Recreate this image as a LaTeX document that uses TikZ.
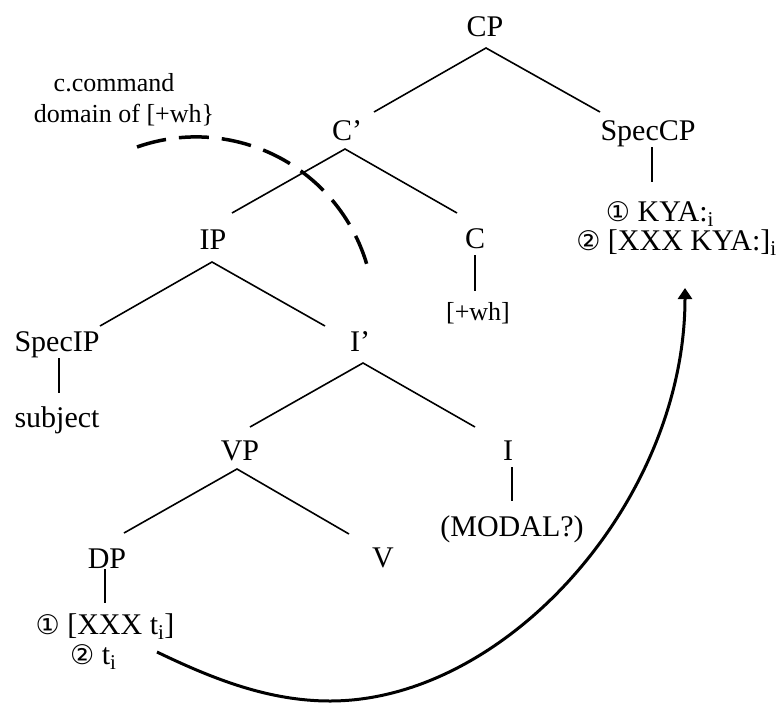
\documentclass[tikz,border=0pt]{standalone}
\usepackage{fontspec}
\setmainfont{Liberation Serif}
\newfontfamily\circfont[Scale=0.9]{DejaVu Sans}
\usetikzlibrary{arrows.meta}
\begin{document}
\begin{tikzpicture}[x=1pt,y=-1pt,
  lab/.style={inner sep=0pt, anchor=base, font=\fontsize{30}{36}\selectfont},
  sm/.style={inner sep=0pt, anchor=base, font=\fontsize{26}{31}\selectfont},
  br/.style={line width=1.6pt},
  vt/.style={line width=1.1pt},
  move/.style={line width=3pt, -{Triangle[length=11pt,width=14pt]}},
  dom/.style={line width=3.5pt, dash pattern=on 30pt off 13pt}]
\useasboundingbox (0,0) rectangle (778,704);
% labels
\node[lab] (CP) at (485,36) {CP};
\node[lab] (Cbar) at (347,140) {C’};
\node[lab] (SpecCP) at (648,140) {SpecCP};
\node[lab] (kya1) at (660,221) {{\circfont ①} KYA:\textsubscript{i}};
\node[lab, anchor=base east] (kya2) at (777,250) {{\circfont ②} [XXX KYA:]\textsubscript{i}};
\node[lab] (IP) at (213,249) {IP};
\node[lab] (C) at (475,248) {C};
\node[sm] (wh) at (478,320) {[+wh]};
\node[lab] (SpecIP) at (57,351) {SpecIP};
\node[lab] (subj) at (57,427) {subject};
\node[lab] (Ibar) at (360,351) {I’};
\node[lab] (VP) at (240,460) {VP};
\node[lab] (I) at (508,460) {I};
\node[lab] (modal) at (512,536) {(MODAL?)};
\node[lab] (DP) at (107,568) {DP};
\node[lab] (V) at (383,567) {V};
\node[lab] (dp1) at (105,634) {{\circfont ①} [XXX t\textsubscript{i}]};
\node[lab, anchor=base west] (dp2) at (70,664) {{\circfont ②} t\textsubscript{i}};
\node[sm] (cc1) at (114,91) {c.command};
\node[sm] (cc2) at (124,122) {domain of [+wh\}};
% attachment points
\coordinate (CPb) at (486,48);
\coordinate (Cbart) at (374,112);
\coordinate (SpecCPt) at (600,112);
\coordinate (Cbarb) at (345,149);
\coordinate (IPt) at (232,213);
\coordinate (Ct) at (457,213);
\coordinate (IPb) at (212,262);
\coordinate (SpecIPt) at (100,326);
\coordinate (Ibart) at (325,326);
\coordinate (Ibarb) at (363,363);
\coordinate (VPt) at (250,427);
\coordinate (It) at (475,427);
\coordinate (VPb) at (237,469);
\coordinate (DPt) at (124,533);
\coordinate (Vt) at (349,534);
% branches
\draw[br] (Cbart) -- (CPb) -- (SpecCPt);
\draw[br] (IPt) -- (Cbarb) -- (Ct);
\draw[br] (SpecIPt) -- (IPb) -- (Ibart);
\draw[br] (VPt) -- (Ibarb) -- (It);
\draw[br] (DPt) -- (VPb) -- (Vt);
% unary lines
\draw[vt] (652,147) coordinate (SpecCPb) -- (652,182) coordinate (kya1t);
\draw[vt] (475,255) coordinate (Cb) -- (475,291) coordinate (wht);
\draw[vt] (59,358) coordinate (SpecIPb) -- (59,393) coordinate (subjt);
\draw[vt] (512,467) coordinate (Ib) -- (512,501) coordinate (modalt);
\draw[vt] (105,569) coordinate (DPb) -- (105,603) coordinate (dp1t);
% c-command domain
\coordinate (domS) at (137,147);
\draw[dom] (domS) arc[start angle=109.4, end angle=16.4, radius=178pt];
% movement arrow
\coordinate (mvS) at (157,652);
\coordinate (mvE) at (685,288);
\draw[move] (mvS) .. controls (215,680) and (270,701) .. (330,701)
  .. controls (507,701) and (685,500) .. (mvE);
\end{tikzpicture}
\end{document}
